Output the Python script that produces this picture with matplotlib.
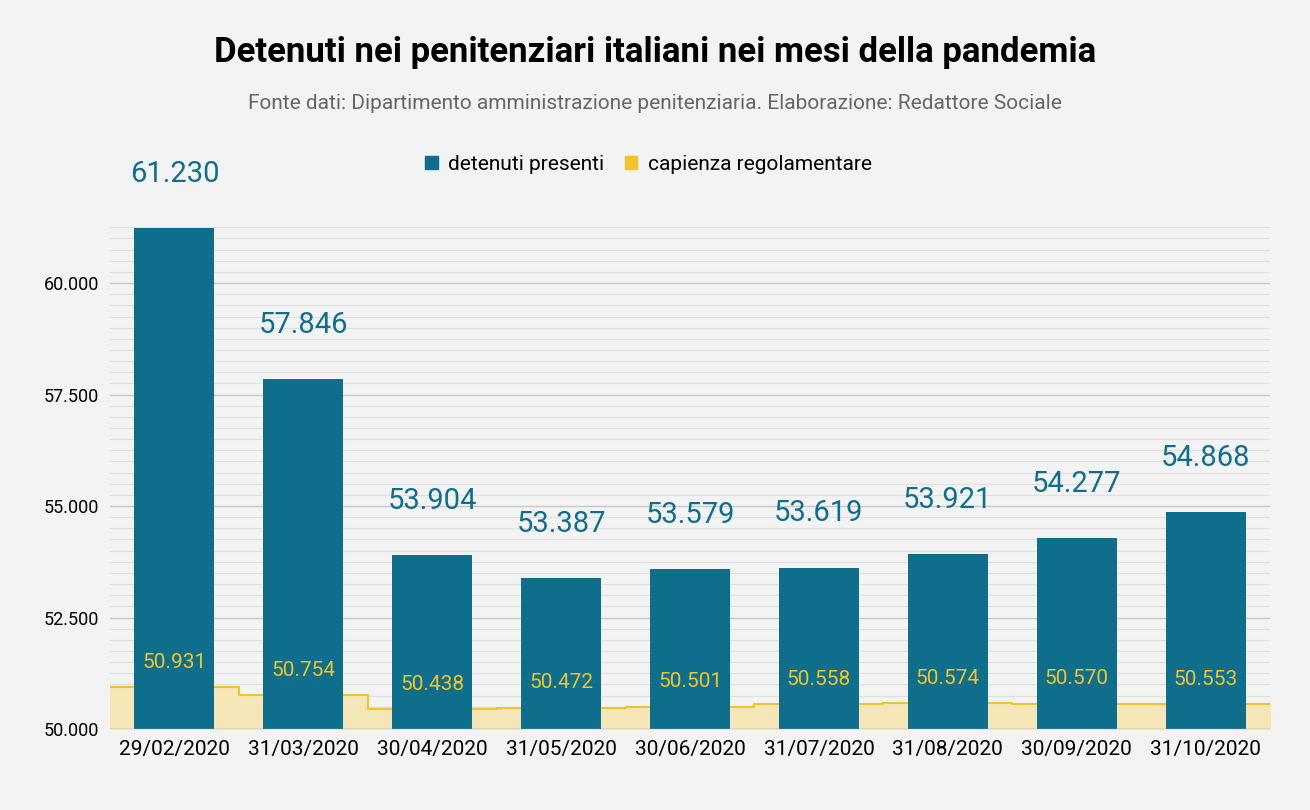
import matplotlib
import matplotlib.pyplot as plt
import numpy as np

matplotlib.rcParams['font.family'] = ['Roboto', 'DejaVu Sans']

dates = ['29/02/2020', '31/03/2020', '30/04/2020', '31/05/2020', '30/06/2020',
         '31/07/2020', '31/08/2020', '30/09/2020', '31/10/2020']
detenuti = [61230, 57846, 53904, 53387, 53579, 53619, 53921, 54277, 54868]
capienza = [50931, 50754, 50438, 50472, 50501, 50558, 50574, 50570, 50553]

def fmt(v):
    return f'{v:,}'.replace(',', '.')

bg = '#f3f3f3'
blue = '#0f6e8c'
yellow = '#f0c330'

fig = plt.figure(figsize=(13.1, 8.1), dpi=100, facecolor=bg)
ax = fig.add_axes([110/1310, 81/810, 1160/1310, 507/810], facecolor=bg)

x = np.arange(len(dates))
ymin, ymax = 50000, 61370

# capienza as step area
xs = np.concatenate([[-0.5], x, [len(x) - 0.5]])
cs = np.concatenate([[capienza[0]], capienza, [capienza[-1]]])
ax.fill_between(xs, ymin, cs, step='mid', color='#f5e6b8', zorder=1)
ax.step(xs, cs, where='mid', color=yellow, lw=1.5, zorder=2)

ax.bar(x, detenuti, width=0.62, color=blue, zorder=3)

for xi, d, c in zip(x, detenuti, capienza):
    ax.text(xi, d + 900, fmt(d), ha='center', va='bottom', fontsize=21, color=blue, zorder=4)
    ax.text(xi, c + 350, fmt(c), ha='center', va='bottom', fontsize=15, color=yellow, zorder=4)

ax.set_xlim(-0.5, len(x) - 0.5)
ax.set_ylim(ymin, ymax)
ax.set_yticks([50000, 52500, 55000, 57500, 60000])
ax.set_yticklabels([fmt(v) for v in [50000, 52500, 55000, 57500, 60000]], fontsize=13)
ax.set_yticks(np.arange(50000, ymax, 250), minor=True)
ax.grid(axis='y', which='major', color='#c8c8c8', lw=1, zorder=0)
ax.grid(axis='y', which='minor', color='#e0e0e0', lw=0.8, zorder=0)
ax.set_axisbelow(True)
ax.set_xticks(x)
ax.set_xticklabels(dates, fontsize=15)
ax.tick_params(length=0, pad=8)
ax.tick_params(axis='y', which='minor', length=0)
for s in ax.spines.values():
    s.set_visible(False)
ax.axhline(ymin, color='#999999', lw=1, zorder=5)

fig.text(0.5, 0.923, 'Detenuti nei penitenziari italiani nei mesi della pandemia',
         ha='center', fontsize=25, fontweight='bold', color='black')
fig.text(0.5, 0.866, 'Fonte dati: Dipartimento amministrazione penitenziaria. Elaborazione: Redattore Sociale',
         ha='center', fontsize=15, color='#666666')

h1 = plt.Rectangle((0, 0), 1, 1, color=blue)
h2 = plt.Rectangle((0, 0), 1, 1, color=yellow)
fig.legend([h1, h2], ['detenuti presenti', 'capienza regolamentare'], loc='center',
           bbox_to_anchor=(0.495, 0.797), ncol=2, frameon=False, fontsize=15,
           handlelength=0.6, handleheight=0.6, handletextpad=0.5, columnspacing=1.0)

fig.savefig('out.png', dpi=100, facecolor=bg)
